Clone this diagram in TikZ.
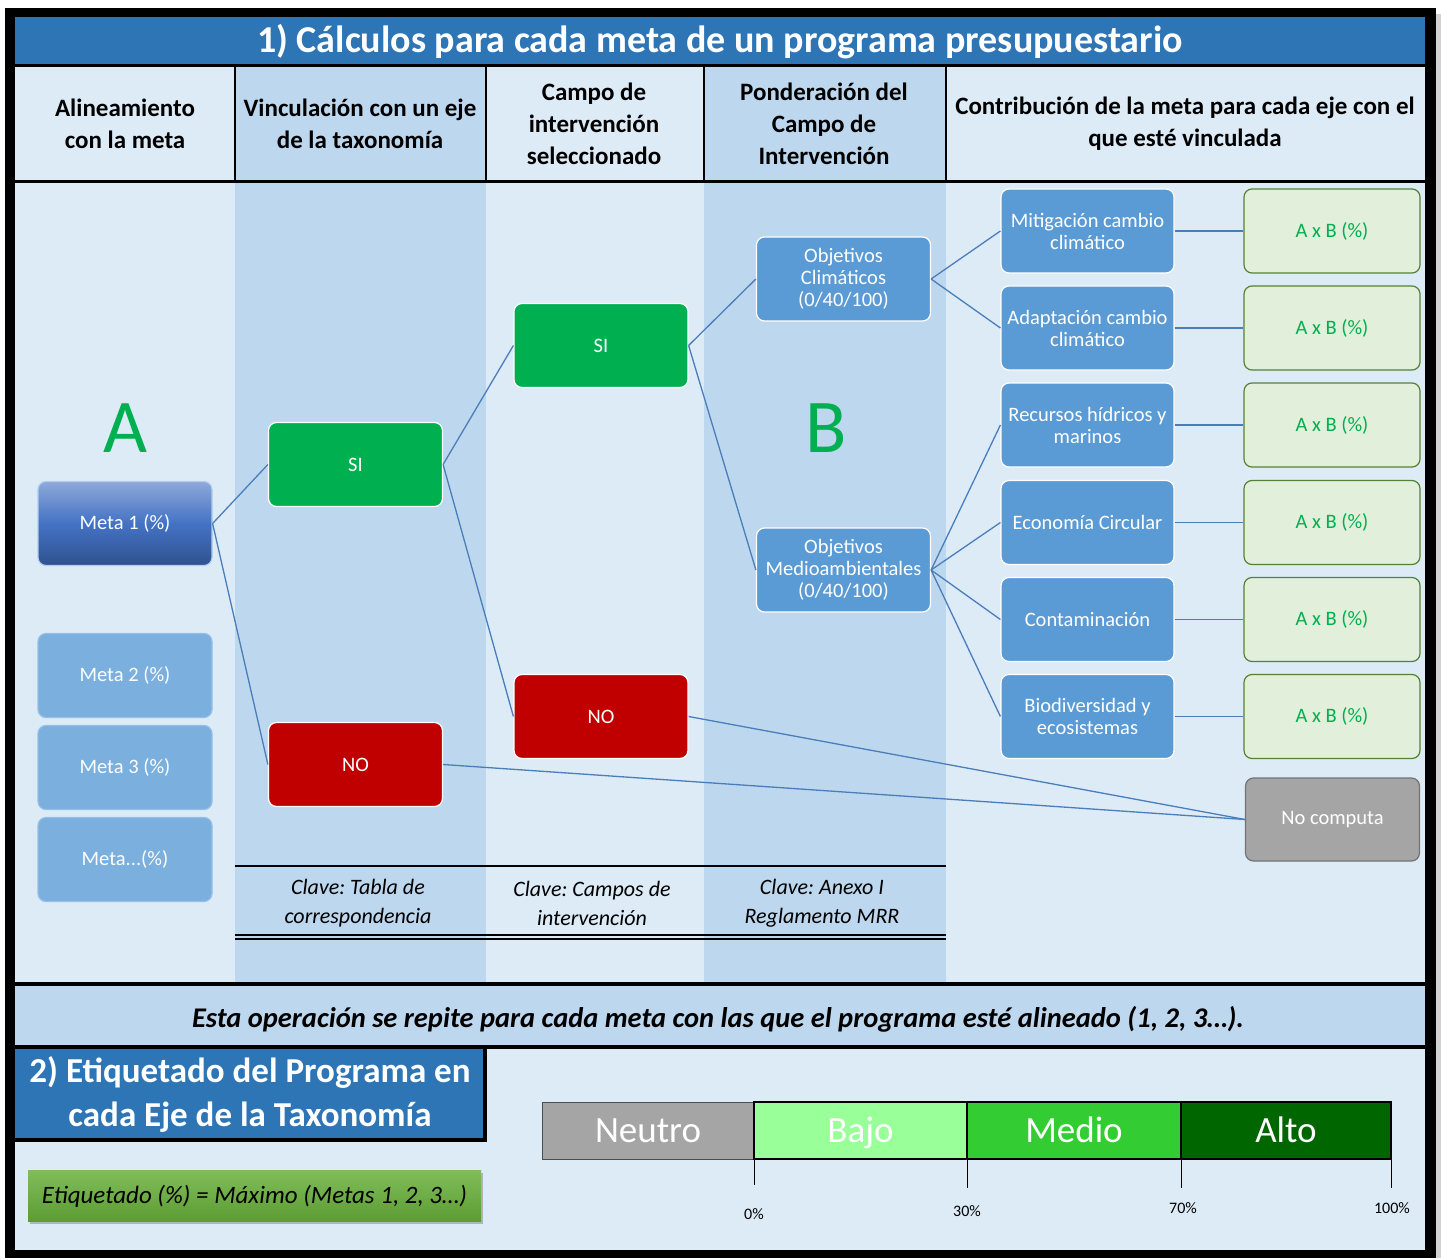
\documentclass[tikz,border=0pt]{standalone}
\usepackage{fontspec}
\setmainfont{Carlito}
\usetikzlibrary{shadows}
\frenchspacing

\definecolor{titleblue}{HTML}{2E75B6}
\definecolor{lightcol}{HTML}{DDEBF7}
\definecolor{darkcol}{HTML}{BDD7EE}
\definecolor{nodeblue}{HTML}{5B9BD5}
\definecolor{metablue}{HTML}{7BAFDE}
\definecolor{metatop}{HTML}{8EA9DB}
\definecolor{metamid}{HTML}{4472C4}
\definecolor{metabot}{HTML}{2F528F}
\definecolor{siverde}{HTML}{00B050}
\definecolor{nojo}{HTML}{C00000}
\definecolor{resfill}{HTML}{E2EFDA}
\definecolor{resedge}{HTML}{548235}
\definecolor{grisnc}{HTML}{A5A5A5}
\definecolor{linkblue}{HTML}{4A7EBB}
\definecolor{formtop}{HTML}{80BD5A}
\definecolor{formbot}{HTML}{5C9C33}
\definecolor{bajocol}{HTML}{99FF99}
\definecolor{mediocol}{HTML}{33CC33}
\definecolor{altocol}{HTML}{006600}

\tikzset{
  basebox/.style={rounded corners=8pt, minimum width=174pt, minimum height=84pt,
    align=center, text=white, draw=white, line width=1.2pt,
    font=\fontsize{20.5}{22}\selectfont},
  metabox/.style={basebox, fill=metablue, draw=metablue!80!white},
  sibox/.style={basebox, fill=siverde},
  nobox/.style={basebox, fill=nojo},
  objbox/.style={basebox, fill=nodeblue},
  ejebox/.style={basebox, fill=nodeblue, minimum width=173pt},
  resbox/.style={basebox, fill=resfill, draw=resedge, text=siverde, minimum width=176pt},
  ncbox/.style={basebox, fill=grisnc, draw=grisnc!70!black, minimum height=83pt},
  link/.style={draw=linkblue, line width=1.3pt},
  headtext/.style={align=center, font=\bfseries\fontsize{25}{32}\selectfont},
  clavetext/.style={align=center, font=\itshape\fontsize{22}{29}\selectfont},
  bigletter/.style={text=siverde, font=\fontsize{76}{80}\selectfont},
  scalebox/.style={minimum height=57pt, text=white, inner sep=0pt,
    text height=30pt, text depth=7pt, font=\fontsize{37}{40}\selectfont},
  pct/.style={font=\fontsize{16}{18}\selectfont}
}

\begin{document}
\begin{tikzpicture}[x=1pt,y=-1pt]
    \useasboundingbox (0,0) rectangle (1441,1260);

    \fill[black] (5,8) rectangle (1436,1258);
    \fill[gray!35] (1436,14) rectangle (1441,1258);
    \fill[lightcol] (15,17) rectangle (1425,1250);
    \fill[titleblue] (15,17) rectangle (1425,64);
    \fill[darkcol] (235,66) rectangle (486,983);
    \fill[darkcol] (704,66) rectangle (946,983);
    \fill[darkcol] (15,985) rectangle (1425,1046);

    \draw[line width=3pt] (15,65.5) -- (1425,65.5);
    \draw[line width=3pt] (15,182) -- (1425,182);
    \foreach \x in {235,486,704,946}
        \draw[line width=2.5pt] (\x,65.5) -- (\x,182);
    \draw[line width=4pt] (15,984) -- (1425,984);
    \draw[line width=4pt] (15,1047) -- (1425,1047);

    \node[text=white, font=\bfseries\fontsize{38}{40}\selectfont] (title) at (720,42)
        {1) Cálculos para cada meta de un programa presupuestario};

    \node[headtext] (hdalin) at (125,124) {Alineamiento\\con la meta};
    \node[headtext] (hdvinc) at (360,124) {Vinculación con un eje\\de la taxonomía};
    \node[headtext] (hdcampo) at (594,124) {Campo de\\intervención\\seleccionado};
    \node[headtext] (hdpond) at (824,124) {Ponderación del\\Campo de\\Intervención};
    \node[headtext] (hdcontr) at (1185,124) {Contribución de la meta para cada eje con el\\que esté vinculada};

    \node[bigletter] (letA) at (125,428) {A};
    \node[bigletter] (letB) at (826,428) {B};

    \node[metabox, draw=metablue!60!white, top color=metatop,
        bottom color=metabot, middle color=metamid] (meta1) at (125,523.5) {Meta 1 (\%)};
    \node[metabox] (meta2) at (125,675.5) {Meta 2 (\%)};
    \node[metabox] (meta3) at (125,767.5) {Meta 3 (\%)};
    \node[metabox] (metan) at (125,859.5) {Meta...(\%)};

    \node[sibox] (si1) at (355.5,464.5) {SI};
    \node[nobox] (no1) at (355.5,764.5) {NO};
    \node[sibox] (si2) at (601,345.5) {SI};
    \node[nobox] (no2) at (601,716.5) {NO};

    \node[objbox] (objc) at (843.5,279) {Objetivos\\Climáticos\\(0/40/100)};
    \node[objbox] (objm) at (843.5,570) {Objetivos\\Medioambientales\\(0/40/100)};

    \node[ejebox] (mitig) at (1087.5,231) {Mitigación cambio\\climático};
    \node[ejebox] (adapt) at (1087.5,328) {Adaptación cambio\\climático};
    \node[ejebox] (recur) at (1087.5,425) {Recursos hídricos y\\marinos};
    \node[ejebox] (econ) at (1087.5,522.5) {Economía Circular};
    \node[ejebox] (contam) at (1087.5,619.5) {Contaminación};
    \node[ejebox] (biodiv) at (1087.5,716.5) {Biodiversidad y\\ecosistemas};

    \foreach \n/\y in {mitig/231,adapt/328,recur/425,econ/522.5,contam/619.5,biodiv/716.5} {
        \node[resbox] (res\n) at (1332,\y) {A x B (\%)};
        \draw[link] (\n.east) -- (res\n.west);
    }

    \node[ncbox] (nocomp) at (1332.5,819.5) {No computa};

    \draw[link] (meta1.east) -- (si1.west);
    \draw[link] (meta1.east) -- (no1.west);
    \draw[link] (si1.east) -- (si2.west);
    \draw[link] (si1.east) -- (no2.west);
    \draw[link] (si2.east) -- (objc.west);
    \draw[link] (si2.east) -- (objm.west);
    \draw[link] (objc.east) -- (mitig.west);
    \draw[link] (objc.east) -- (adapt.west);
    \draw[link] (objm.east) -- (recur.west);
    \draw[link] (objm.east) -- (econ.west);
    \draw[link] (objm.east) -- (contam.west);
    \draw[link] (objm.east) -- (biodiv.west);
    \draw[link] (no2.east) -- (nocomp.west);
    \draw[link] (no1.east) -- (nocomp.west);

    \draw[line width=2pt] (235,866) -- (946,866);
    \draw[line width=1.5pt] (235,935) -- (946,935);
    \draw[line width=1.5pt] (235,939) -- (946,939);
    \node[clavetext] (clave1) at (358,903) {Clave: Tabla de\\correspondencia};
    \node[clavetext] (clave2) at (592,903) {Clave: Campos de\\intervención};
    \node[clavetext] (clave3) at (822,903) {Clave: Anexo I\\Reglamento MRR};

    \node[font=\bfseries\itshape\fontsize{28.5}{30}\selectfont] (repite) at (718,1019)
        {Esta operación se repite para cada meta con las que el programa esté alineado (1, 2, 3…).};

    \fill[titleblue] (15,1049) rectangle (485,1139);
    \draw[line width=4pt] (485,1049) -- (485,1140) -- (15,1140);
    \node[text=white, align=center, font=\bfseries\fontsize{35}{44}\selectfont] (etiqtitle) at (250,1094)
        {2) Etiquetado del Programa en\\cada Eje de la Taxonomía};

    \node[minimum width=453pt, minimum height=51pt, top color=formtop,
        bottom color=formbot, drop shadow, font=\itshape\fontsize{25}{28}\selectfont] (etiq) at (254.5,1196)
        {Etiquetado (\%) = Máximo (Metas 1, 2, 3…)};

    \node[scalebox, fill=grisnc, draw=black!70, minimum width=212pt] (neutro) at (648,1130.5) {Neutro};
    \node[scalebox, fill=bajocol, minimum width=213pt] (bajo) at (860.5,1130.5) {Bajo};
    \node[scalebox, fill=mediocol, minimum width=214pt] (medio) at (1074,1130.5) {Medio};
    \node[scalebox, fill=altocol, minimum width=210pt] (alto) at (1286,1130.5) {Alto};
    \draw[line width=2.5pt] (bajo.north west) rectangle (alto.south east);
    \draw[line width=1.5pt] (medio.north west) -- (medio.south west);
    \draw[line width=1.5pt] (medio.north east) -- (medio.south east);

    \draw[thin] (bajo.south west) -- ++(0,26);
    \draw[thin] (medio.south west) -- ++(0,29);
    \draw[thin] (medio.south east) -- ++(0,29);
    \draw[thin] (alto.south east) -- ++(0,29);
    \node[pct] (p0) at (754,1214) {0\%};
    \node[pct] (p30) at (967,1211) {30\%};
    \node[pct] (p70) at (1183,1208) {70\%};
    \node[pct] (p100) at (1392,1208) {100\%};
\end{tikzpicture}
\end{document}
